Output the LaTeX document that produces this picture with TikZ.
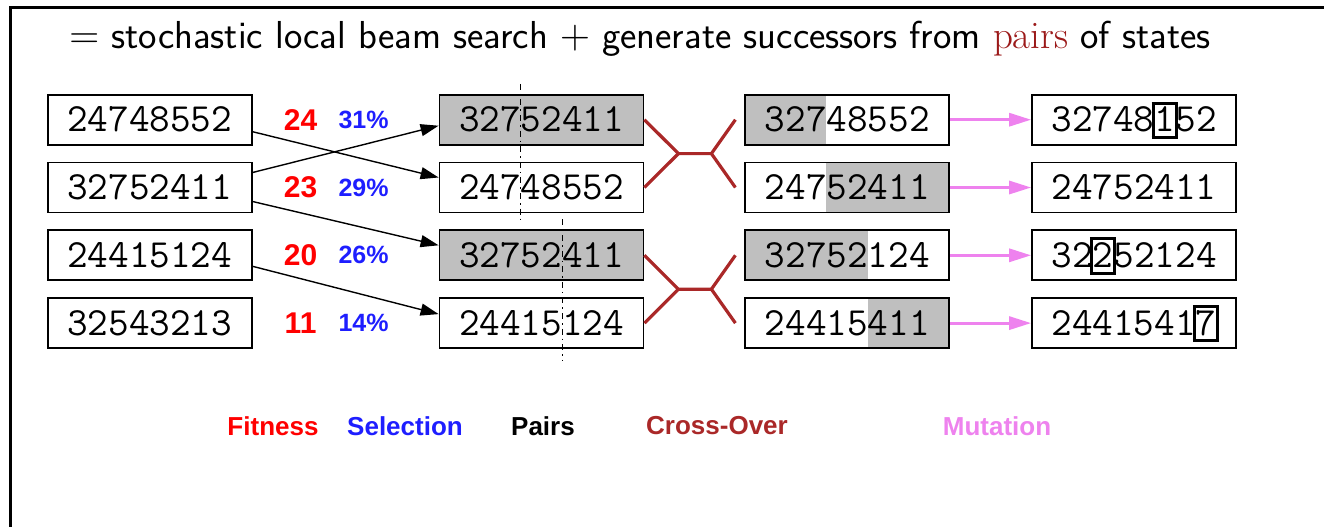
\documentclass[tikz,border=0pt]{standalone}
\usepackage{fontspec}
\usepackage{tikz}
\usetikzlibrary{arrows.meta,calc}

\newfontfamily\labelfont{Liberation Sans}

\definecolor{cellgray}{gray}{0.75}
\definecolor{crossred}{RGB}{170,40,40}
\definecolor{pairsred}{RGB}{155,25,25}
\definecolor{mutviolet}{RGB}{238,130,238}
\definecolor{fitred}{RGB}{255,0,0}
\definecolor{selblue}{RGB}{30,30,255}

% width of one digit of the typewriter font at 20pt
\newcommand\digitw{10.5pt}
% frame a mutated digit without moving its neighbours
\newcommand\mut[1]{\makebox[\digitw]{\smash{\setlength\fboxsep{0pt}\setlength\fboxrule{1.5pt}\fbox{\rule[-2pt]{0pt}{15.7pt}#1}}}}

\tikzset{
  leftgray/.style={path picture={\fill[cellgray] (path picture bounding box.south west) rectangle ([xshift=#1*\digitw]path picture bounding box.north);}},
  rightgray/.style={path picture={\fill[cellgray] ([xshift=#1*\digitw]path picture bounding box.south) rectangle (path picture bounding box.north east);}}
}

\begin{document}
\begin{tikzpicture}[x=0.5pt,y=-0.5pt,thick]
    % `state' is used for every 8-digit board.
    % `fitnum' and `selnum' are the score and probability columns.
    % `select', `cross' and `mutate' are the three kinds of connectors.
    \tikzstyle{state} = [draw,anchor=center,line width=0.9pt,minimum width=102pt,minimum height=25pt,inner sep=0pt,font=\fontsize{20}{24}\selectfont\ttfamily]
    \tikzstyle{fitnum} = [anchor=center,inner sep=0pt,minimum width=20pt,text=fitred,font=\fontsize{15}{18}\selectfont\labelfont\bfseries]
    \tikzstyle{selnum} = [anchor=center,inner sep=0pt,minimum width=26pt,text=selblue,font=\fontsize{12.5}{15}\selectfont\labelfont\bfseries]
    \tikzstyle{select} = [line width=0.7pt,-{Triangle[length=9pt,width=6pt]}]
    \tikzstyle{cross} = [crossred,line width=1.6pt]
    \tikzstyle{mutate} = [mutviolet,line width=1.5pt,-{Triangle[length=11pt,width=6.5pt]}]
    \tikzstyle{cut} = [dashdotted,line width=0.6pt]
    \tikzstyle{legend} = [inner sep=0pt,font=\fontsize{13}{16}\selectfont\labelfont\bfseries]
    %
    \useasboundingbox (0,0) rectangle (1324,527);
    \draw[line width=1.5pt] (1324,7) -- (10,7) -- (10,527);
    \node[anchor=base west] (title) at (62,48) {\fontsize{19.5}{22}\selectfont\sffamily
      $=$ stochastic local beam search $+$ generate successors from {\rmfamily\color{pairsred}pairs} of states};
    %
    \matrix[row sep=8pt, column sep=0pt, inner sep=0pt, anchor=north west] (pop) at (46,93) {
      \node[state] (l1) {24748552}; &[14pt]
      \node[fitnum] (f1) {24}; &[8.5pt]
      \node[selnum] (s1) {31\%}; &[24.5pt]
      \node[state,fill=cellgray] (p1) {32752411}; &[50pt]
      \node[state,leftgray=-1] (c1) {32748552}; &[40.5pt]
      \node[state] (m1) {32748\mut{1}52}; \\

      \node[state] (l2) {32752411}; &[14pt]
      \node[fitnum] (f2) {23}; &[8.5pt]
      \node[selnum] (s2) {29\%}; &[24.5pt]
      \node[state] (p2) {24748552}; &[50pt]
      \node[state,rightgray=-1] (c2) {24752411}; &[40.5pt]
      \node[state] (m2) {24752411}; \\

      \node[state] (l3) {24415124}; &[14pt]
      \node[fitnum] (f3) {20}; &[8.5pt]
      \node[selnum] (s3) {26\%}; &[24.5pt]
      \node[state,fill=cellgray] (p3) {32752411}; &[50pt]
      \node[state,leftgray=1] (c3) {32752124}; &[40.5pt]
      \node[state] (m3) {32\mut{2}52124}; \\

      \node[state] (l4) {32543213}; &[14pt]
      \node[fitnum] (f4) {11}; &[8.5pt]
      \node[selnum] (s4) {14\%}; &[24.5pt]
      \node[state] (p4) {24415124}; &[50pt]
      \node[state,rightgray=1] (c4) {24415411}; &[40.5pt]
      \node[state] (m4) {2441541\mut{7}}; \\
    };
    % selection of the parents
    \draw[select] ([yshift=-6pt]l1.east) -- ([yshift=5pt]p2.west);
    \draw[select] ([yshift=7.5pt]l2.east) -- ([yshift=-3pt]p1.west);
    \draw[select] ([yshift=-7pt]l2.east) -- ([yshift=5pt]p3.west);
    \draw[select] ([yshift=-5.5pt]l3.east) -- ([yshift=4.5pt]p4.west);
    % cross-over points
    \draw[cut] ($(p1.north)+(-\digitw,5pt)$) -- ($(p2.south)+(-\digitw,-5pt)$);
    \draw[cut] ($(p3.north)+(\digitw,5pt)$) -- ($(p4.south)+(\digitw,-5.5pt)$);
    % cross-over joints
    \coordinate (x1) at ($(p1.east)!0.5!(p2.east)+(17pt,0)$);
    \coordinate (x2) at ($(p3.east)!0.5!(p4.east)+(17pt,0)$);
    \draw[cross] (p1.east) -- (x1) -- ++(16.5pt,0) coordinate (y1);
    \draw[cross] (p2.east) -- (x1);
    \draw[cross] ([xshift=-4.5pt]c1.west) -- (y1) -- ([xshift=-4.5pt]c2.west);
    \draw[cross] (p3.east) -- (x2) -- ++(16.5pt,0) coordinate (y2);
    \draw[cross] (p4.east) -- (x2);
    \draw[cross] ([xshift=-4.5pt]c3.west) -- (y2) -- ([xshift=-4.5pt]c4.west);
    % mutation
    \foreach \i in {1,...,4}
      \draw[mutate] (c\i) -- (m\i);
    % column captions
    \node[legend,text=fitred] (lfit) at (273,426) {Fitness};
    \node[legend,text=selblue] (lsel) at (405,426) {Selection};
    \node[legend] (lpair) at (543,426) {Pairs};
    \node[legend,text=crossred] (lcross) at (717,426) {Cross-Over};
    \node[legend,text=mutviolet] (lmut) at (997,426) {Mutation};
\end{tikzpicture}
\end{document}
